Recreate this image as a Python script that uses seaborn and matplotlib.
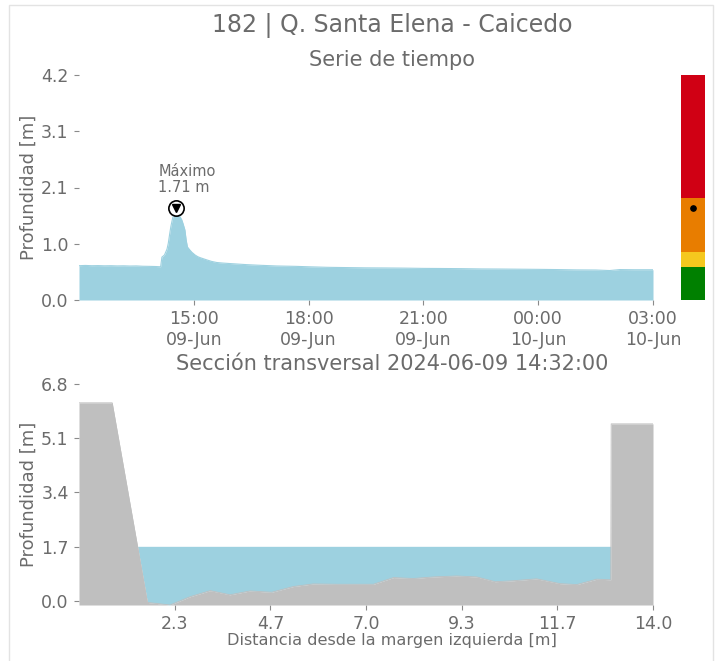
import pandas as pd
import matplotlib
matplotlib.use('Agg')
import matplotlib.pyplot as plt
import matplotlib.dates as mdates
from matplotlib.patches import Rectangle
import seaborn as sns

# --- time series (2024-06-09 12:00 -> 2024-06-10 03:00) ---
times = [
    '2024-06-09 12:00', '2024-06-09 12:10', '2024-06-09 12:20', '2024-06-09 12:30',
    '2024-06-09 12:40', '2024-06-09 12:50', '2024-06-09 13:00', '2024-06-09 13:10',
    '2024-06-09 13:20', '2024-06-09 13:30', '2024-06-09 13:40', '2024-06-09 13:50',
    '2024-06-09 14:00', '2024-06-09 14:08', '2024-06-09 14:10', '2024-06-09 14:14',
    '2024-06-09 14:18', '2024-06-09 14:20', '2024-06-09 14:22', '2024-06-09 14:24',
    '2024-06-09 14:27', '2024-06-09 14:30', '2024-06-09 14:32', '2024-06-09 14:35',
    '2024-06-09 14:38', '2024-06-09 14:41', '2024-06-09 14:43', '2024-06-09 14:46',
    '2024-06-09 14:48', '2024-06-09 14:50', '2024-06-09 14:54', '2024-06-09 14:57',
    '2024-06-09 15:02', '2024-06-09 15:06', '2024-06-09 15:10', '2024-06-09 15:15',
    '2024-06-09 15:20', '2024-06-09 15:28', '2024-06-09 15:36', '2024-06-09 15:45',
    '2024-06-09 15:57', '2024-06-09 16:10', '2024-06-09 16:23', '2024-06-09 16:40',
    '2024-06-09 17:10', '2024-06-09 17:40', '2024-06-09 18:00', '2024-06-09 18:30',
    '2024-06-09 19:00', '2024-06-09 19:30', '2024-06-09 20:00', '2024-06-09 20:30',
    '2024-06-09 21:00', '2024-06-09 21:30', '2024-06-09 22:00', '2024-06-09 22:30',
    '2024-06-09 23:00', '2024-06-09 23:30', '2024-06-10 00:00', '2024-06-10 00:30',
    '2024-06-10 01:00', '2024-06-10 01:30', '2024-06-10 01:52', '2024-06-10 02:08',
    '2024-06-10 02:30', '2024-06-10 03:00',
]
depth = [
    0.640, 0.645, 0.640, 0.642, 0.638, 0.640, 0.636, 0.638,
    0.634, 0.636, 0.630, 0.628, 0.625, 0.620, 0.800, 0.840,
    0.950, 1.060, 1.220, 1.370, 1.540, 1.620, 1.710, 1.630,
    1.560, 1.500, 1.430, 1.310, 1.120, 0.990, 0.930, 0.890,
    0.840, 0.810, 0.790, 0.770, 0.750, 0.720, 0.700, 0.690,
    0.680, 0.670, 0.660, 0.650, 0.635, 0.628, 0.620, 0.610,
    0.605, 0.600, 0.598, 0.595, 0.590, 0.588, 0.585, 0.580,
    0.578, 0.575, 0.572, 0.568, 0.562, 0.560, 0.550, 0.568,
    0.565, 0.565,
]
peak_time = '2024-06-09 14:32'
peak_value = 1.71

ts_yticks = [0.0, 1.05, 2.1, 3.15, 4.2]
ts_ylabels = ['0.0', '1.0', '2.1', '3.1', '4.2']

# alert levels (bottom, top, colour) for the side bar
level_bottoms = [0.0, 0.62, 0.90, 1.90]
level_tops = [0.62, 0.90, 1.90, 4.2]
level_colors = ['#008000', '#F5C81E', '#E87D00', '#D00014']

# --- cross section ---
distance = [0.0, 0.81, 1.67, 2.22, 2.71, 3.20, 3.68, 4.17, 4.70, 5.23, 5.71,
            6.29, 7.18, 7.67, 8.15, 8.64, 9.21, 9.70, 10.15, 10.59, 11.16,
            11.73, 12.14, 12.63, 12.97, 12.98, 14.0]
ground = [6.21, 6.21, -0.05, -0.13, 0.13, 0.32, 0.19, 0.31, 0.27, 0.45, 0.53,
          0.52, 0.52, 0.73, 0.70, 0.75, 0.78, 0.75, 0.60, 0.63, 0.69,
          0.54, 0.51, 0.68, 0.66, 5.55, 5.55]
water_level = 1.71

xs_xticks = [2.33, 4.67, 7.0, 9.33, 11.67, 14.0]
xs_xlabels = ['2.3', '4.7', '7.0', '9.3', '11.7', '14.0']
xs_yticks = [0.0, 1.7, 3.4, 5.1, 6.8]
xs_ylabels = ['0.0', '1.7', '3.4', '5.1', '6.8']

WATER = '#9dd1e0'
GROUND = '#bfbfbf'
TEXT = '#6b6b6b'

sns.set_style('white')
plt.rcParams['font.family'] = ['DejaVu Sans']

W, H = 721, 661
fig = plt.figure(figsize=(W / 100, H / 100), dpi=100)


def box(x0, y0, x1, y1):
    return [x0 / W, 1 - y1 / H, (x1 - x0) / W, (y1 - y0) / H]


def style_axis(ax):
    for s in ax.spines.values():
        s.set_visible(False)
    ax.tick_params(length=3.5, width=0.8, color='#8a8a8a', labelcolor=TEXT,
                   labelsize=12.5, pad=4, left=True, bottom=True)


# frame around the whole figure
fig.patches.append(Rectangle((9 / W, -0.01), 704 / W, 1 - 5 / H + 0.01,
                             transform=fig.transFigure, fill=False,
                             edgecolor='#e3e3e3', linewidth=1))

# ---- top: time series ----
ax1 = fig.add_axes(box(79, 75, 653, 300))
df = pd.DataFrame({'time': pd.to_datetime(times), 'depth': depth})
ax1.fill_between(df['time'], 0, df['depth'], color=WATER, linewidth=0)
sns.lineplot(data=df, x='time', y='depth', ax=ax1, color=WATER, linewidth=0.8)
pt = pd.to_datetime(peak_time)
ax1.plot([pt], [peak_value], marker='o', ms=11, mfc='white', mec='black',
         mew=1.2, zorder=5)
ax1.plot([pt], [peak_value], marker='v', ms=6, color='black', zorder=6)
ax1.annotate('Máximo\n1.71 m', xy=(pt, peak_value), xytext=(-12.6, 10),
             textcoords='offset points', ha='left', va='bottom',
             fontsize=10.5, color=TEXT, linespacing=1.05)
ax1.set_xlim(pd.Timestamp('2024-06-09 12:00'), pd.Timestamp('2024-06-10 03:00'))
ax1.set_ylim(0, 4.2)
ax1.set_yticks(ts_yticks)
ax1.set_yticklabels(ts_ylabels)
ax1.xaxis.set_major_locator(mdates.HourLocator(byhour=[0, 3, 15, 18, 21]))
ax1.xaxis.set_major_formatter(mdates.DateFormatter('%H:%M\n%d-%b'))
ax1.set_xlabel('')
ax1.set_ylabel('Profundidad [m]', fontsize=13, color=TEXT)
ax1.yaxis.set_label_coords(-0.072, 0.5)
style_axis(ax1)

# ---- side bar with alert levels ----
axb = fig.add_axes(box(681, 75, 705, 300))
axb.bar([0] * 4, [t - b for b, t in zip(level_bottoms, level_tops)],
        bottom=level_bottoms, color=level_colors, width=1.0, linewidth=0)
axb.plot([0], [peak_value], marker='o', ms=3.8, color='black')
axb.set_xlim(-0.5, 0.5)
axb.set_ylim(0, 4.2)
axb.set_xticks([])
axb.set_yticks([])
for s in axb.spines.values():
    s.set_visible(False)

# ---- bottom: cross section ----
ax2 = fig.add_axes(box(79, 384, 653, 605))
ybot = -0.13
dist_s = pd.Series(distance)
ground_s = pd.Series(ground)
ax2.fill_between(dist_s, ground_s, water_level, where=ground_s < water_level,
                 interpolate=True, color=WATER, linewidth=0)
ax2.fill_between(dist_s, ybot, ground_s, color=GROUND, linewidth=0)
sns.lineplot(x=distance, y=ground, ax=ax2, color=GROUND, linewidth=0.6,
             sort=False)
ax2.set_xlim(0, 14)
ax2.set_ylim(ybot, 6.8)
ax2.set_xticks(xs_xticks)
ax2.set_xticklabels(xs_xlabels)
ax2.set_yticks(xs_yticks)
ax2.set_yticklabels(xs_ylabels)
ax2.set_ylabel('Profundidad [m]', fontsize=13, color=TEXT)
ax2.yaxis.set_label_coords(-0.072, 0.5)
style_axis(ax2)

# titles
cx = 392 / W
fig.text(cx, 1 - 25 / H, '182 | Q. Santa Elena - Caicedo', ha='center',
         va='center', fontsize=17, color=TEXT)
fig.text(cx, 1 - 60 / H, 'Serie de tiempo', ha='center', va='center',
         fontsize=15, color=TEXT)
fig.text(cx, 1 - 364 / H, 'Sección transversal 2024-06-09 14:32:00',
         ha='center', va='center', fontsize=15, color=TEXT)
fig.text(cx, 1 - 640 / H, 'Distancia desde la margen izquierda [m]',
         ha='center', va='center', fontsize=11.6, color=TEXT)

fig.savefig('out.png', dpi=100)
